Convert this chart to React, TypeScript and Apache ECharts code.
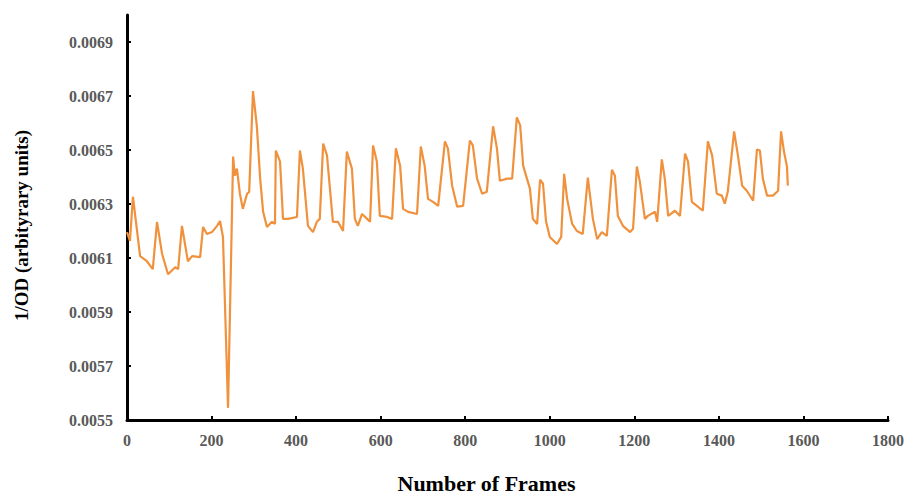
import React, { useEffect, useRef } from "react";
import * as echarts from "echarts";

const frames = [
  0, 7, 14, 31, 47, 61, 71, 83, 97, 114, 121, 130, 144, 154, 173, 180, 189, 201, 213, 220, 227, 239,
  251, 255, 260, 267, 274, 284, 289, 298, 307, 315, 322, 331, 343, 350, 352, 362, 369, 381, 402, 409,
  416, 428, 440, 449, 456, 464, 473, 480, 487, 499, 511, 520, 532, 539, 546, 556, 568, 575, 582, 591,
  598, 615, 627, 636, 646, 653, 665, 686, 695, 704, 712, 724, 736, 752, 759, 769, 781, 795, 811, 818,
  828, 840, 851, 866, 875, 882, 899, 911, 922, 930, 937, 946, 953, 960, 970, 977, 984, 991, 1000, 1017,
  1027, 1034, 1041, 1053, 1064, 1078, 1090, 1102, 1112, 1123, 1135, 1147, 1154, 1161, 1173, 1190, 1197,
  1206, 1213, 1225, 1232, 1249, 1254, 1265, 1272, 1280, 1296, 1308, 1320, 1327, 1336, 1348, 1362, 1374,
  1384, 1395, 1407, 1414, 1421, 1436, 1445, 1455, 1466, 1481, 1490, 1497, 1504, 1514, 1528, 1540, 1547,
  1554, 1561, 1563,
];

const od = [
  0.006196, 0.006163, 0.006327, 0.006107, 0.006088, 0.006059, 0.006234, 0.006115, 0.00604, 0.006066,
  0.006059, 0.006219, 0.006088, 0.006107, 0.006103, 0.006215, 0.006189, 0.006196, 0.006219, 0.006237,
  0.006178, 0.005545, 0.006476, 0.006405, 0.006431, 0.006338, 0.006282, 0.006338, 0.006345, 0.006718,
  0.006591, 0.006394, 0.006271, 0.006215, 0.006234, 0.006226, 0.006498, 0.006457, 0.006245, 0.006245,
  0.006252, 0.006498, 0.006431, 0.006219, 0.006196, 0.006234, 0.006245, 0.006524, 0.00648, 0.006357,
  0.006234, 0.006234, 0.0062, 0.006494, 0.006431, 0.006245, 0.006219, 0.006263, 0.006245, 0.006234,
  0.006517, 0.006457, 0.006256, 0.006252, 0.006245, 0.006506, 0.006442, 0.006282, 0.006271, 0.006263,
  0.006513, 0.006442, 0.006319, 0.006308, 0.006293, 0.006532, 0.006506, 0.006368, 0.00629, 0.006293,
  0.006535, 0.006517, 0.006394, 0.006338, 0.006345, 0.006588, 0.006506, 0.006386, 0.006394, 0.006394,
  0.006621, 0.006591, 0.006442, 0.006394, 0.006357, 0.006245, 0.006226, 0.00639, 0.006375, 0.006237,
  0.006178, 0.006152, 0.006178, 0.006412, 0.006319, 0.006226, 0.0062, 0.006189, 0.006398, 0.006245,
  0.00617, 0.006196, 0.006182, 0.006427, 0.006405, 0.006256, 0.006219, 0.006196, 0.006208, 0.006439,
  0.006383, 0.006245, 0.006256, 0.006271, 0.006234, 0.006465, 0.006394, 0.006256, 0.006275, 0.006256,
  0.006487, 0.006457, 0.006308, 0.006293, 0.006275, 0.006532, 0.00648, 0.006338, 0.006331, 0.006301,
  0.006345, 0.006569, 0.00648, 0.006368, 0.006349, 0.006312, 0.006502, 0.006498, 0.006394, 0.006331,
  0.006331, 0.006349, 0.006569, 0.006494, 0.006439, 0.006368,
];

const yTickValues = [0.0055, 0.0057, 0.0059, 0.0061, 0.0063, 0.0065, 0.0067, 0.0069];
const xTitle = "Number of Frames";
const yTitle = "1/OD (arbityrary units)";

const FONT = "Liberation Serif";

export default function App() {
  const ref = useRef<HTMLDivElement>(null);
  useEffect(() => {
    if (!ref.current) return;
    const chart = echarts.init(ref.current, undefined, { renderer: "svg" });
    const data = frames.map((f, i) => [f, od[i]]);
    chart.setOption({
      animation: false,
      backgroundColor: "#ffffff",
      textStyle: { fontFamily: FONT },
      grid: {
        left: 127,
        right: 19,
        top: 15,
        bottom: 75,
        containLabel: false,
        outerBoundsMode: "none",
      },
      xAxis: {
        type: "value",
        min: 0,
        max: 1800,
        interval: 200,
        name: xTitle,
        nameLocation: "middle",
        nameGap: 52,
        nameTextStyle: {
          fontFamily: FONT,
          fontWeight: "bold",
          fontSize: 22,
          color: "#000",
          padding: [0, 42, 0, 0],
        },
        axisLine: { show: true, lineStyle: { color: "#000", width: 3 } },
        axisTick: { show: true, inside: true, length: 4, lineStyle: { color: "#000", width: 2 } },
        axisLabel: {
          fontFamily: FONT,
          fontWeight: "bold",
          fontSize: 16,
          color: "#595959",
          margin: 12,
          formatter: (v: number) => String(v),
        },
        splitLine: { show: false },
      },
      yAxis: {
        type: "value",
        min: 0.0055,
        max: 0.007,
        name: yTitle,
        nameLocation: "middle",
        nameRotate: 90,
        nameGap: 96,
        nameTextStyle: {
          fontFamily: FONT,
          fontWeight: "bold",
          fontSize: 19,
          color: "#000",
          padding: [0, 16, 0, 0],
        },
        axisLine: { show: true, lineStyle: { color: "#000", width: 3 } },
        axisTick: {
          show: true,
          inside: true,
          length: 4,
          lineStyle: { color: "#000", width: 2 },
          customValues: yTickValues,
        },
        axisLabel: {
          fontFamily: FONT,
          fontWeight: "bold",
          fontSize: 16,
          color: "#595959",
          margin: 14,
          customValues: yTickValues,
          formatter: (v: number) => v.toFixed(4),
        },
        splitLine: { show: false },
      },
      series: [
        {
          type: "line",
          data,
          showSymbol: false,
          symbol: "none",
          lineStyle: { color: "#F0923D", width: 2.2 },
        },
      ],
    });
    return () => chart.dispose();
  }, []);
  return (
    <div
      ref={ref}
      style={{ position: "absolute", left: 0, top: 0, width: 907, height: 495 }}
    />
  );
}
